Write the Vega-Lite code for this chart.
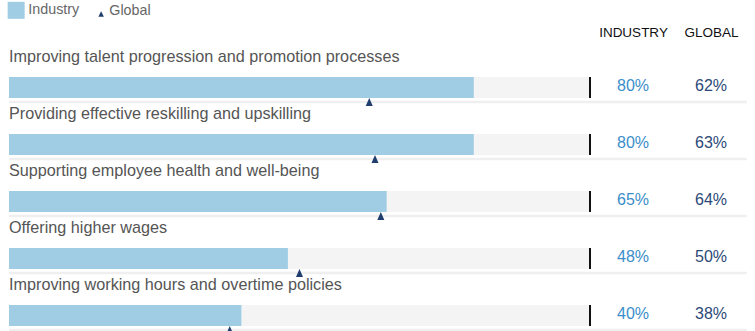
{
  "$schema": "https://vega.github.io/schema/vega-lite/v6.json",
  "width": 755,
  "height": 291,
  "padding": {"top": 40, "left": 0, "right": 0, "bottom": 0},
  "autosize": {"type": "none"},
  "background": "white",
  "config": {"view": {"stroke": null}, "font": "Liberation Sans"},
  "data": {
    "values": [
      {"task": "Improving talent progression and promotion processes", "industry": 0.80, "global": 0.62},
      {"task": "Providing effective reskilling and upskilling", "industry": 0.80, "global": 0.63},
      {"task": "Supporting employee health and well-being", "industry": 0.65, "global": 0.64},
      {"task": "Offering higher wages", "industry": 0.48, "global": 0.50},
      {"task": "Improving working hours and overtime policies", "industry": 0.40, "global": 0.38}
    ]
  },
  "resolve": {"scale": {"x": "independent"}},
  "layer": [
    {
      "layer": [
        {
          "mark": {"type": "bar", "height": 21, "color": "#f4f4f4"},
          "encoding": {
            "x": {"datum": 1, "type": "quantitative", "scale": {"domain": [0, 1], "range": [9, 590]}, "axis": null},
            "y": {"field": "task", "type": "nominal", "sort": null, "scale": {"type": "point", "range": [47.5, 275.5], "padding": 0}, "axis": null}
          }
        },
        {
          "mark": {"type": "rule", "color": "#efefef", "strokeWidth": 2.5, "yOffset": 14.5},
          "encoding": {
            "x": {"datum": 0, "type": "quantitative"},
            "x2": {"datum": 1.27},
            "y": {"field": "task", "type": "nominal", "sort": null}
          }
        },
        {
          "mark": {"type": "bar", "height": 21},
          "encoding": {
            "x": {"field": "industry", "type": "quantitative"},
            "y": {"field": "task", "type": "nominal", "sort": null},
            "color": {
              "datum": "Industry",
              "type": "nominal",
              "scale": {"domain": ["Industry", "Global"], "range": ["#a0cde4", "#1f3d6d"]},
              "legend": {
                "orient": "none",
                "legendX": 9,
                "legendY": -37,
                "direction": "horizontal",
                "title": null,
                "symbolSize": 289,
                "labelFontSize": 14.3,
                "labelColor": "#666666",
                "labelOffset": 5,
                "columnPadding": 10,
                "padding": 0,
                "symbolStrokeWidth": 0,
                "symbolOpacity": 1,
                "labelFont": "Liberation Sans",
                "encode": {
                  "symbols": {"update": {
                    "shape": {"signal": "datum.value === 'Industry' ? 'square' : 'M 1.46 0.1 L 2.46 2.1 L 0.46 2.1 Z'"},
                    "size": {"signal": "datum.value === 'Industry' ? 289 : 30"}
                  }}
                }
              }
            }
          }
        },
        {
          "mark": {"type": "tick", "orient": "vertical", "size": 21, "thickness": 2, "color": "#111111", "opacity": 1},
          "encoding": {
            "x": {"datum": 1, "type": "quantitative"},
            "y": {"field": "task", "type": "nominal", "sort": null}
          }
        },
        {
          "mark": {"type": "point", "shape": "M 0 -1 L 0.875 1 L -0.875 1 Z", "filled": true, "size": 64, "opacity": 1, "yOffset": 14.5},
          "encoding": {
            "x": {"field": "global", "type": "quantitative"},
            "y": {"field": "task", "type": "nominal", "sort": null},
            "color": {"datum": "Global", "type": "nominal"}
          }
        },
        {
          "mark": {"type": "text", "align": "left", "baseline": "alphabetic", "fontSize": 16.2, "color": "#555555", "yOffset": -25.5},
          "encoding": {
            "x": {"datum": 0, "type": "quantitative"},
            "y": {"field": "task", "type": "nominal", "sort": null},
            "text": {"field": "task"}
          }
        }
      ]
    },
    {
      "transform": [{"fold": ["industry", "global"], "as": ["key", "value"]}],
      "mark": {"type": "text", "align": "center", "baseline": "alphabetic", "fontSize": 16, "yOffset": 3},
      "encoding": {
        "x": {
          "field": "key",
          "type": "nominal",
          "sort": null,
          "scale": {"type": "point", "domain": ["industry", "global"], "range": [633, 711], "padding": 0},
          "axis": {"orient": "top", "domain": false, "ticks": false, "grid": false, "title": null, "labelAngle": 0,
                   "labelExpr": "upper(datum.value)", "labelPadding": 4, "labelFontSize": 13.5, "labelColor": "#111111",
                   "labelBaseline": "alphabetic", "labelFont": "Liberation Sans"}
        },
        "y": {"field": "task", "type": "nominal", "sort": null},
        "text": {"field": "value", "type": "quantitative", "format": ".0%"},
        "color": {"condition": {"test": "datum.key === 'industry'", "value": "#3b8ec9"}, "value": "#2c4a77"}
      }
    }
  ]
}
